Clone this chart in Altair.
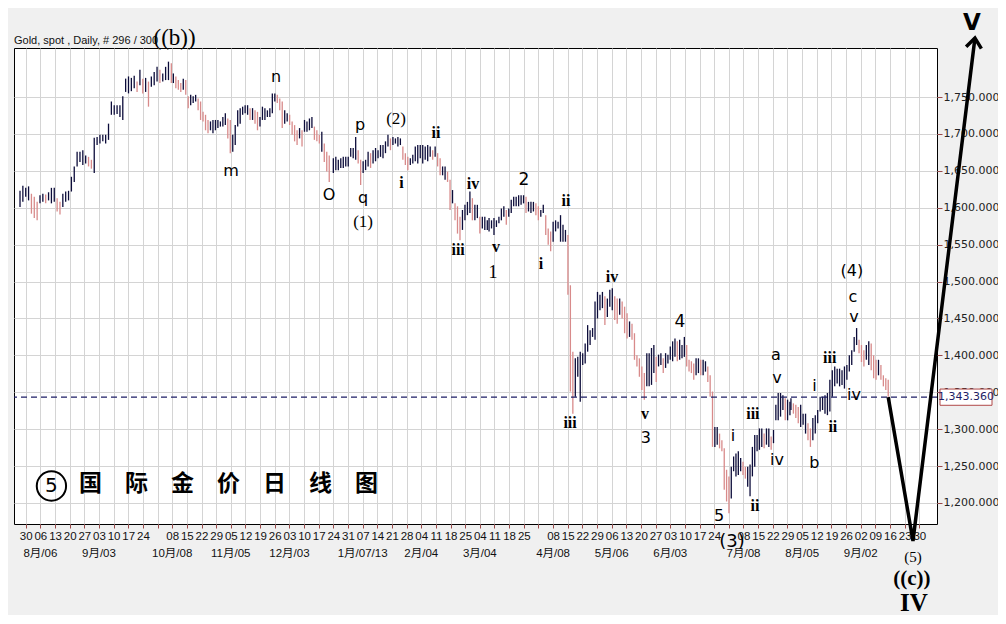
import altair as alt
import pandas as pd

# ---------------- data ----------------
# Daily bars, grouped in six stretches; each stretch = (first week, last week) measured
# in weeks after Monday 2012-07-30, and the highs / lows of its bars in order.
SEG1_WEEKS = (-0.39, 9.94)
SEG1_HIGH = [1623,1630,1627,1629,1619,1615,1608,1617,1619,1618,1621,1627,1627,1613,1608,
             1619,1622,1623,1642,1656,1676,1676,1678,1671,1669,1665,1695,1696,1699,1699,
             1699,1714,1744,1739,1739,1739,1751,1775,1778,1776,1779,1771,1787,1775,1776,
             1771,1778,1784,1791,1787,1782,1791,1798,1796]
SEG1_LOW = [1601,1608,1615,1610,1592,1586,1583,1606,1608,1606,1610,1606,1608,1595,1591,
            1601,1608,1610,1622,1635,1656,1662,1658,1660,1656,1653,1647,1685,1687,1690,
            1687,1692,1726,1726,1727,1723,1719,1757,1755,1758,1762,1757,1766,1755,1757,
            1737,1764,1766,1771,1769,1771,1773,1773,1769]

SEG2_WEEKS = (10.08, 20.72)
SEG2_HIGH = [1782,1778,1773,1769,1775,1773,1751,1753,1751,1753,1748,1744,1730,1726,1719,
             1717,1719,1719,1719,1717,1723,1728,1721,1719,1699,1712,1732,1735,1737,1739,
             1739,1735,1735,1732,1730,1723,1737,1735,1732,1735,1755,1755,1753,1748,1744,
             1732,1728,1726,1717,1712,1705,1708,1705,1719,1717,1721,1723,1710,1705,1699,
             1703,1687,1676,1671]
SEG2_LOW = [1769,1762,1760,1757,1760,1753,1735,1739,1742,1744,1732,1719,1717,1705,1701,
            1705,1701,1705,1708,1710,1710,1712,1694,1674,1676,1685,1710,1714,1726,1728,
            1726,1719,1719,1714,1705,1710,1719,1719,1723,1723,1728,1744,1742,1732,1708,
            1714,1717,1712,1699,1690,1685,1694,1683,1703,1703,1705,1708,1692,1690,1687,
            1676,1662,1649,1635]

SEG3_WEEKS = (21.00, 31.51)
SEG3_HIGH = [1667,1669,1665,1667,1669,1669,1669,1681,1681,1696,1678,1665,1663,1665,1676,
             1674,1678,1681,1678,1685,1685,1690,1699,1694,1696,1694,1696,1694,1683,1674,
             1669,1667,1672,1683,1685,1685,1685,1683,1685,1683,1678,1683,1674,1667,1656,
             1656,1649,1638,1624,1606,1602,1588,1597,1604,1608,1622,1613,1604,1604,1588,
             1588,1588,1583]
SEG3_LOW = [1647,1651,1651,1654,1654,1656,1656,1669,1667,1665,1660,1631,1647,1651,1656,
            1654,1660,1663,1667,1669,1667,1674,1683,1678,1685,1687,1683,1685,1665,1658,
            1651,1658,1660,1663,1660,1667,1660,1665,1663,1669,1665,1669,1656,1644,1644,
            1638,1635,1597,1606,1583,1565,1556,1570,1583,1590,1593,1583,1583,1586,1565,
            1572,1570,1570]

SEG4_WEEKS = (31.63, 42.23)
SEG4_HIGH = [1586,1583,1586,1583,1588,1599,1602,1597,1599,1611,1615,1615,1617,1617,1617,
             1615,1608,1608,1608,1606,1602,1597,1604,1590,1572,1568,1581,1583,1581,1590,
             1577,1570,1563,1495,1405,1396,1398,1405,1403,1416,1441,1434,1437,1473,1486,
             1482,1486,1480,1477,1489,1491,1480,1477,1477,1473,1466,1457,1446,1443,1430,
             1400,1396,1385,1376]
SEG4_LOW = [1568,1572,1563,1574,1579,1583,1588,1577,1588,1593,1602,1602,1602,1604,1606,
            1593,1595,1593,1595,1590,1583,1588,1593,1563,1550,1541,1554,1568,1572,1554,
            1554,1554,1482,1351,1321,1344,1371,1337,1387,1389,1405,1414,1425,1421,1450,
            1461,1464,1441,1452,1466,1461,1448,1443,1455,1450,1430,1423,1425,1421,1394,
            1385,1371,1353,1340]

SEG5_WEEKS = (42.40, 52.17)
SEG5_HIGH = [1403,1403,1410,1414,1398,1401,1403,1396,1403,1401,1412,1419,1423,1419,1421,
             1414,1425,1414,1394,1392,1389,1396,1396,1394,1394,1392,1385,1373,1351,1303,
             1303,1294,1285,1274,1245,1236,1249,1263,1267,1270,1261,1256,1249,1249,1252,
             1276,1292,1292,1301,1301,1294,1301,1301,1290,1299,1333,1349,1349,1346,1342,
             1340,1337]
SEG5_LOW = [1358,1358,1360,1376,1364,1385,1387,1376,1383,1389,1394,1392,1398,1392,1394,
            1396,1398,1385,1378,1376,1367,1373,1376,1373,1373,1378,1364,1344,1276,1276,
            1279,1274,1270,1218,1202,1186,1206,1243,1236,1238,1243,1238,1233,1222,1209,
            1236,1249,1270,1272,1276,1274,1279,1276,1272,1281,1312,1312,1317,1326,1312,
            1312,1319]

SEG6_WEEKS = (52.24, 58.88)
SEG6_HIGH = [1342,1335,1333,1330,1333,1321,1321,1308,1301,1315,1319,1326,1344,1344,1346,
             1349,1367,1380,1385,1382,1382,1380,1385,1387,1400,1407,1425,1437,1421,1414,
             1407,1414,1419,1416,1400,1394,1394,1387,1373,1369,1367]
SEG6_LOW = [1326,1321,1315,1308,1303,1306,1294,1285,1276,1285,1294,1308,1324,1326,1321,
            1319,1324,1344,1358,1362,1358,1360,1355,1367,1378,1387,1405,1414,1403,1391,
            1385,1394,1387,1380,1369,1367,1373,1367,1358,1353,1344]

LAST_PRICE = 1343.36

# weekly (Monday) tick labels, week 0 = 2012-07-30
WEEK_DAYS = ['30','06','13','20','27','03','10','17','24','','08','15','22','29','05','12',
             '19','26','03','10','17','24','31','07','14','21','28','04','11','18','25','04',
             '11','18','25','','08','15','22','29','06','13','20','27','03','10','17','24',
             '','08','15','22','29','05','12','19','26','02','09','16','23','30']
MONTH_WEEKS = [1, 5, 10, 14, 18, 23, 27, 31, 36, 40, 44, 49, 53, 57]
MONTH_TEXT = ['8月/06','9月/03','10月/08','11月/05','12月/03','1月/07/13','2月/04','3月/04',
              '4月/08','5月/06','6月/03','7月/08','8月/05','9月/02']
Y_TICKS = [1200,1250,1300,1350,1400,1450,1500,1550,1600,1650,1700,1750]

# Elliott-wave projection path (week, price) and annotation labels (text, week, price, size)
PROJ_WEEK = [58.88, 60.57, 64.80]
PROJ_PRICE = [LAST_PRICE, 1148.5, 1830.0]

SANS_LABELS = [("n",17.09,1777,16),("m",14.01,1650,16),("O",20.70,1617,16),("p",22.82,1712,16),
               ("q",23.03,1613,16),("2",34.01,1638,17),("4",44.66,1445,17),("3",42.34,1288,16),
               ("5",47.33,1182,16),("(3)",48.21,1147,18),("i",48.28,1291,16),("iv",51.29,1258,16),
               ("a",51.21,1400,16),("v",51.29,1369,16),("b",53.84,1254,16),("i",53.84,1358,16),
               ("iv",56.54,1346,16),("(4)",56.40,1514,16),("c",56.47,1479,16),("v",56.54,1452,16),
               ("5",1.755,1223,20)]
SERIF_LABELS = [("(1)",23.03,1581,17),("(2)",25.28,1720,17),("1",31.90,1512,18),
                ("(5)",60.57,1127,15),("((b))",10.16,1830,23)]
SERIF_BOLD_LABELS = [("i",25.65,1634,16),("ii",28.01,1701,16),("iv",30.54,1632,16),("iii",29.52,1543,16),
                     ("v",32.10,1547,16),("i",35.17,1524,16),("ii",36.88,1609,16),("iv",40.02,1506,16),
                     ("iii",37.16,1308,16),("v",42.27,1321,16),("iii",49.64,1321,16),("ii",49.78,1196,16),
                     ("iii",54.89,1396,16),("ii",55.10,1303,16),("((c))",60.50,1097,21),("IV",60.64,1065,25)]
SANS_BOLD_LABELS = [("V",64.60,1851,23)]
CJK_LABELS = [("国　际　金　价　日　线　图",13.84,1225.7,23)]
CIRCLE_POS = [(1.755, 1223.0)]

# ---------------- build table ----------------
segments = [(SEG1_WEEKS,SEG1_HIGH,SEG1_LOW),(SEG2_WEEKS,SEG2_HIGH,SEG2_LOW),
            (SEG3_WEEKS,SEG3_HIGH,SEG3_LOW),(SEG4_WEEKS,SEG4_HIGH,SEG4_LOW),
            (SEG5_WEEKS,SEG5_HIGH,SEG5_LOW),(SEG6_WEEKS,SEG6_HIGH,SEG6_LOW)]
rows = []
prev = None
for (w0, w1), hs, ls in segments:
    n = len(hs)
    for i, (h, l) in enumerate(zip(hs, ls)):
        w = w0 + (w1 - w0) * i / (n - 1)
        d = 'down' if (prev is not None and h < prev[0] and l < prev[1]) else 'up'
        prev = (h, l)
        rows.append({'w': w, 'hi': h, 'lo': l, 'dir': d})
bars_df = pd.DataFrame(rows)

xs = alt.Scale(domain=[-0.8, 62.21], nice=False, zero=False)
ys = alt.Scale(domain=[1171.5, 1816.5], nice=False, zero=False)

label_expr = "[" + ",".join("'%s'" % d for d in WEEK_DAYS) + "][datum.value]"

AX_X = alt.Axis(values=list(range(len(WEEK_DAYS))), labelExpr=label_expr, grid=True,
                gridColor='#d4d4d4', gridWidth=1, tickColor='#9a4a4a', tickSize=4,
                domain=False, labelFont='Liberation Sans', labelFontSize=11.5,
                labelColor='#111111', labelOverlap=False, labelFlush=False, labelPadding=2,
                title=None)
AX_Y = alt.Axis(orient='right', values=Y_TICKS, format=',.3f', grid=True, gridColor='#d4d4d4',
                tickColor='#9a4a4a', tickSize=5, domain=False, labelFont='DejaVu Sans',
                labelFontSize=11, labelColor='#222222', labelPadding=1, title=None,
                labelFlush=False)


def X(field):
    return alt.X(field, scale=xs, axis=AX_X, title=None)


def Y(field):
    return alt.Y(field, scale=ys, axis=AX_Y, title=None)


bars = alt.Chart(bars_df).mark_rule(strokeWidth=1.3).encode(
    x=X('w:Q'), y=Y('lo:Q'), y2='hi:Q',
    color=alt.Color('dir:N', scale=alt.Scale(domain=['up', 'down'], range=['#0c0c3a', '#d88a8a']),
                    legend=None)
)

dash = alt.Chart(pd.DataFrame({'p': [LAST_PRICE]})).mark_rule(
    color='#1e1e66', strokeDash=[6, 4], strokeWidth=1.2).encode(y=Y('p:Q'))

box_df = pd.DataFrame({'p1': [LAST_PRICE + 11], 'p2': [LAST_PRICE - 11]})
box = alt.Chart(box_df).mark_rect(fill='white', stroke='#b04848', strokeWidth=1).encode(
    x=alt.value(926), x2=alt.value(978), y=Y('p1:Q'), y2='p2:Q')
box_text = alt.Chart(pd.DataFrame({'p': [LAST_PRICE], 't': ['1,343.360']})).mark_text(
    font='DejaVu Sans', fontSize=11, color='#1e1e66', align='center', baseline='middle').encode(
    x=alt.value(952), y=Y('p:Q'), text='t:N')

month_df = pd.DataFrame({'w': MONTH_WEEKS, 't': MONTH_TEXT})
months = alt.Chart(month_df).mark_text(
    font="Liberation Sans, 'Noto Sans CJK SC'", fontSize=11.5, color='#111111',
    align='center', baseline='middle').encode(
    x=X('w:Q'), y=alt.value(506), text='t:N')

title = alt.Chart(pd.DataFrame({'t': ['Gold, spot , Daily, # 296 / 300']})).mark_text(
    font='Liberation Sans', fontSize=11, color='#111111', align='left', baseline='alphabetic').encode(
    x=alt.value(0), y=alt.value(-4), text='t:N')

proj_df = pd.DataFrame({'w': PROJ_WEEK, 'p': PROJ_PRICE, 'o': list(range(len(PROJ_WEEK)))})
proj = alt.Chart(proj_df).mark_line(color='black', strokeWidth=3.5, strokeJoin='miter').encode(
    x=X('w:Q'), y=Y('p:Q'), order='o:Q')
arrow = alt.Chart(proj_df.tail(1)).mark_point(
    shape='M -0.75 0.95 L 0 0 L 0.75 0.95', filled=False, color='black', strokeWidth=3.5,
    size=420, angle=7, opacity=1).encode(x=X('w:Q'), y=Y('p:Q'))


def text_layer(items, font, weight='normal'):
    d = pd.DataFrame(items, columns=['t', 'w', 'p', 's'])
    return alt.Chart(d).mark_text(font=font, fontWeight=weight, color='black',
                                  align='center', baseline='middle').encode(
        x=X('w:Q'), y=Y('p:Q'), text='t:N', size=alt.Size('s:Q', scale=None, legend=None))


circle = alt.Chart(pd.DataFrame(CIRCLE_POS, columns=['w', 'p'])).mark_point(
    shape='circle', size=860, filled=False, color='black', strokeWidth=2, opacity=1).encode(
    x=X('w:Q'), y=Y('p:Q'))

chart = alt.layer(
    bars, dash, box, box_text, months, title, proj, arrow, circle,
    text_layer(SANS_LABELS, 'DejaVu Sans'),
    text_layer(SERIF_LABELS, 'Liberation Serif'),
    text_layer(SERIF_BOLD_LABELS, 'Liberation Serif', 'bold'),
    text_layer(SANS_BOLD_LABELS, 'DejaVu Sans', 'bold'),
    text_layer(CJK_LABELS, 'Noto Sans CJK SC', 'bold'),
).properties(
    width=923, height=476,
    padding={'left': 6, 'top': 40, 'right': 61, 'bottom': 91},
    autosize=alt.AutoSizeParams(type='none'),
    background='#f0f0f0'
).configure_view(fill='white', stroke='black', strokeWidth=1)

chart.save("out.html", embed_options={"renderer": "svg", "actions": False})
